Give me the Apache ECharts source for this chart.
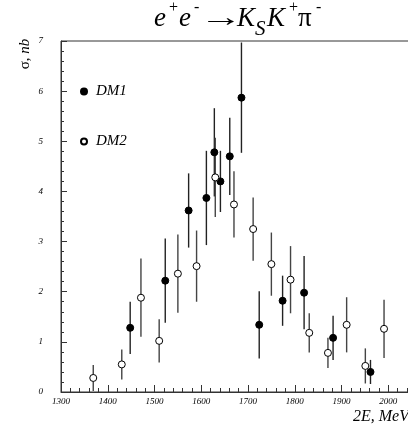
<!DOCTYPE html>
<html><head><meta charset="utf-8">
<script src="https://cdn.jsdelivr.net/npm/echarts@6/dist/echarts.min.js"></script>
<style>html,body{margin:0;padding:0;background:#fff}#c{width:408px;height:426px}</style>
</head><body><div id="c"></div>
<script>
const dm1E = [1448, 1523, 1573, 1611, 1628, 1641, 1661, 1686, 1724, 1774, 1820, 1882, 1962];
const dm1S = [1.28, 2.22, 3.62, 3.87, 4.78, 4.20, 4.70, 5.87, 1.34, 1.82, 1.98, 1.08, 0.40];
const dm1Err = [0.52, 0.84, 0.74, 0.94, 0.88, 0.61, 0.77, 1.10, 0.67, 0.50, 0.73, 0.44, 0.24];
const dm2E = [1369, 1430, 1471, 1510, 1550, 1590, 1630, 1670, 1711, 1750, 1791, 1831, 1871, 1911, 1951, 1991];
const dm2S = [0.28, 0.55, 1.88, 1.02, 2.36, 2.51, 4.28, 3.74, 3.25, 2.55, 2.24, 1.18, 0.78, 1.34, 0.52, 1.26];
const dm2Err = [0.26, 0.30, 0.78, 0.43, 0.78, 0.71, 0.79, 0.66, 0.63, 0.63, 0.67, 0.39, 0.30, 0.55, 0.35, 0.58];

const serif = '"Liberation Serif","DejaVu Serif",serif';
const chart = echarts.init(document.getElementById('c'), null, {renderer: 'canvas'});

function errSeries(E, S, R, color) {
  return {
    type: 'custom',
    silent: true,
    clip: true,
    data: E.map((e, i) => [e, S[i], R[i]]),
    renderItem: function (params, api) {
      const x = api.value(0), y = api.value(1), r = api.value(2);
      const p1 = api.coord([x, y - r]);
      const p2 = api.coord([x, y + r]);
      return {
        type: 'line',
        shape: {x1: p1[0], y1: p1[1], x2: p2[0], y2: p2[1]},
        style: {stroke: color, lineWidth: 1.4}
      };
    },
    z: 1
  };
}

// title pieces: x = left edge, b = baseline, s = font size
const titleParts = [
  {t: 'e', x: 154, b: 27, s: 27, it: true},
  {t: '+', x: 169, b: 12, s: 16, it: false},
  {t: 'e', x: 179, b: 27, s: 27, it: true},
  {t: '-', x: 194, b: 12, s: 16, it: false},
  {t: '\u2192', x: 199, b: 27, s: 27, it: false, sx: 1.6},
  {t: 'K', x: 237, b: 27, s: 27, it: true},
  {t: 'S', x: 255, b: 35, s: 21, it: true},
  {t: 'K', x: 267, b: 27, s: 27, it: true},
  {t: '+', x: 289, b: 12, s: 16, it: false},
  {t: '\u03c0', x: 298, b: 27, s: 27, it: false},
  {t: '-', x: 316, b: 12, s: 16, it: false}
];
const titleEls = titleParts.map(o => ({
  type: 'text', x: o.x, y: o.b + 0.216 * o.s, scaleX: o.sx || 1,
  style: {text: o.t, font: (o.it ? 'italic ' : '') + o.s + 'px ' + serif, fill: '#000', verticalAlign: 'bottom'}
}));

chart.setOption({
  animation: false,
  backgroundColor: '#fff',
  grid: {left: 61, top: 41, bottom: 34, right: -27, outerBoundsMode: 'none', containLabel: false,
    show: true, borderColor: '#333', borderWidth: 1, backgroundColor: 'transparent'},
  legend: {
    orient: 'vertical', left: 80, top: 84, itemGap: 35, padding: 0,
    itemWidth: 6, itemHeight: 6, icon: 'circle',
    textStyle: {fontFamily: serif, fontStyle: 'italic', fontSize: 15, color: '#000', padding: [0, 0, 0, 4]},
    data: ['DM1', 'DM2']
  },
  xAxis: {
    type: 'value', min: 1300, max: 2100, interval: 100,
    axisLine: {show: true, lineStyle: {color: '#333', width: 1}},
    axisTick: {show: true, inside: true, length: 7, lineStyle: {color: '#333'}},
    minorTick: {show: true, splitNumber: 5, length: 4, lineStyle: {color: '#333'}},
    splitLine: {show: false},
    axisLabel: {fontFamily: serif, fontStyle: 'italic', fontSize: 9, color: '#000', margin: 5,
      formatter: v => v <= 2000 ? String(v) : ''}
  },
  yAxis: {
    type: 'value', min: 0, max: 7, interval: 1,
    axisLine: {show: true, lineStyle: {color: '#333', width: 1}},
    axisTick: {show: true, inside: true, length: 6, lineStyle: {color: '#333'}},
    minorTick: {show: true, splitNumber: 5, length: 3, lineStyle: {color: '#333'}},
    splitLine: {show: false},
    axisLabel: {fontFamily: serif, fontStyle: 'italic', fontSize: 9, color: '#000', margin: 18}
  },
  graphic: titleEls.concat([
    {type: 'text', x: 25, y: 54, rotation: Math.PI / 2,
     style: {text: '{a|\u03c3, }{b|nb}', align: 'center', verticalAlign: 'middle',
       rich: {a: {font: '15px ' + serif, fill: '#000'}, b: {font: 'italic 15px ' + serif, fill: '#000'}}}},
    {type: 'text', x: 353, y: 424.5,
     style: {text: '2E, MeV', font: 'italic 16px ' + serif, fill: '#000', verticalAlign: 'bottom'}}
  ]),
  series: [
    errSeries(dm1E, dm1S, dm1Err, '#222'),
    errSeries(dm2E, dm2S, dm2Err, '#444'),
    {name: 'DM1', type: 'scatter', symbol: 'circle', symbolSize: 7, z: 3,
     itemStyle: {color: '#000', borderColor: '#000', borderWidth: 1, opacity: 1},
     data: dm1E.map((e, i) => [e, dm1S[i]])},
    {name: 'DM2', type: 'scatter', symbol: 'circle', symbolSize: 7, z: 3,
     itemStyle: {color: '#fff', borderColor: '#000', borderWidth: 1, opacity: 1},
     data: dm2E.map((e, i) => [e, dm2S[i]])}
  ]
});
</script></body></html>
